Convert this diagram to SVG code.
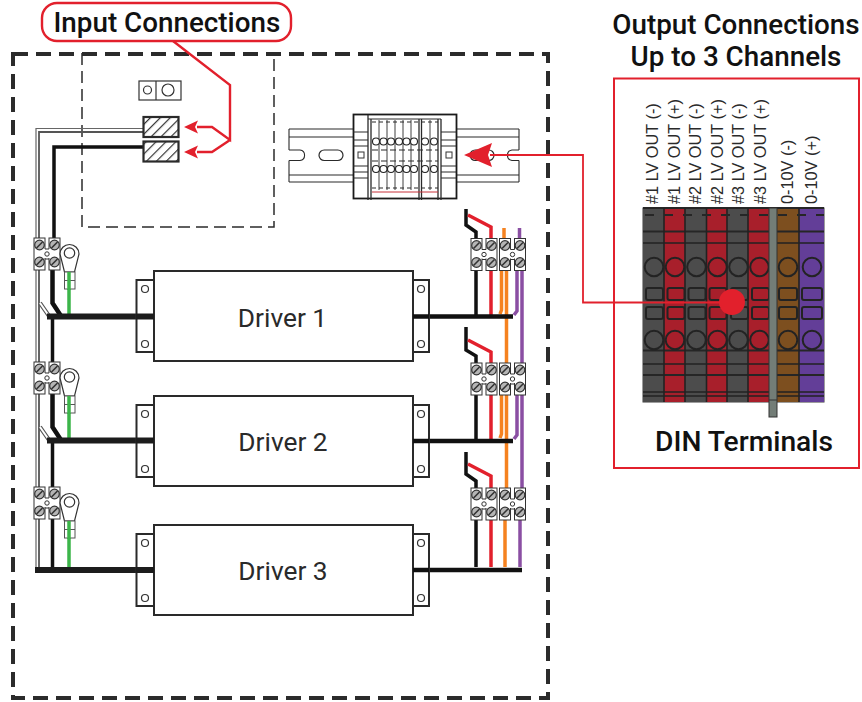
<svg xmlns="http://www.w3.org/2000/svg" xmlns:xlink="http://www.w3.org/1999/xlink" width="862" height="702" viewBox="0 0 862 702">
<style>
.h{font-family:Roboto,"Liberation Sans",sans-serif;font-weight:500;font-size:27.8px;fill:#111}
.d{font-family:Roboto,"Liberation Sans",sans-serif;font-size:26.300px;fill:#2a2a2a;text-anchor:middle}
.v{font-family:"Liberation Sans",Arial,sans-serif;font-size:16.300px;fill:#2a2a2a}
.b{stroke-width:6;stroke:#1c1c1c;fill:none}
.r{stroke-width:4.500;stroke:#111;fill:none}
.w3{stroke-width:3.500;fill:none}
.blk{stroke:#111}.red{stroke:#e2202c}.or{stroke:#f58220}.pu{stroke:#8a4fa3}.gr{stroke:#3cb54a}
.ln{stroke:#2a2a2a;stroke-width:1.100;fill:none}
.tl{stroke:#222;stroke-width:1.600;fill:none}
.tk{stroke:#262626;stroke-width:2.200;fill:none}
.cr{stroke:#e2202c;stroke-width:2.400;fill:none}
</style>
<defs>
<g id="screw"><circle r="4.800" fill="#b5b5b5" stroke="#333" stroke-width="1.200"/><path d="M-3 3L3-3" stroke="#333" stroke-width="1.600"/></g>
<g id="blk">
<rect x="0" y="0" width="11" height="32" fill="#fff" stroke="#333" stroke-width="1"/>
<rect x="15" y="0" width="11" height="32" fill="#fff" stroke="#333" stroke-width="1"/>
<rect x="10" y="11" width="6" height="9" fill="#fff"/>
<path d="M11 11H15M11 21H15" stroke="#333" stroke-width="1"/>
<circle cx="13" cy="16" r="2.200" fill="#fff" stroke="#333"/>
<use xlink:href="#screw" x="5.500" y="7"/><use xlink:href="#screw" x="20.500" y="7"/>
<use xlink:href="#screw" x="5.500" y="24"/><use xlink:href="#screw" x="20.500" y="24"/>
</g>
<g id="lug">
<path d="M-5 19L-9.500 1A9.500 9.500 0 1 1 9.500 1L5 19Z" fill="#fff" stroke="#333" stroke-width="1.200"/>
<circle r="5.200" cy="0" fill="#fff" stroke="#333" stroke-width="1.200"/>
<rect x="-5" y="19" width="10.500" height="17" fill="#fff" stroke="#555" stroke-width="1"/>
<path d="M-5 27.500H5.500" stroke="#555" stroke-width="1"/>
</g>
<g id="driver">
<rect x="136.500" y="9" width="17.500" height="72" fill="#fff" stroke="#2a2a2a" stroke-width="2"/>
<rect x="413" y="9" width="16" height="72" fill="#fff" stroke="#2a2a2a" stroke-width="2"/>
<rect x="154" y="0" width="259" height="90" fill="#fff" stroke="#2a2a2a" stroke-width="2"/>
<circle cx="145" cy="18" r="3.500" fill="#fff" stroke="#333" stroke-width="1.200"/>
<circle cx="145" cy="73" r="3.500" fill="#fff" stroke="#333" stroke-width="1.200"/>
<circle cx="421" cy="18" r="3.500" fill="#fff" stroke="#333" stroke-width="1.200"/>
<circle cx="421" cy="73" r="3.500" fill="#fff" stroke="#333" stroke-width="1.200"/>
</g>
<pattern id="hatch" width="7" height="7" patternUnits="userSpaceOnUse" patternTransform="rotate(45)"><rect width="7" height="7" fill="#fff"/><rect width="1.200" height="7" x="0" fill="#333"/></pattern>
</defs>

<g id="enclosure">
<rect x="13" y="54" width="535" height="644" fill="none" stroke="#2b2b2b" stroke-width="4" stroke-dasharray="15 8"/>
</g>
<g id="input-area">
<path d="M82 53V227H274V53" fill="none" stroke="#2b2b2b" stroke-width="1.500" stroke-dasharray="12 6"/>
</g>

<g id="connectors">
<path d="M143 128.500H36V567" fill="none" stroke="#666" stroke-width="1.200"/>
<path d="M143 132H39V567" fill="none" stroke="#555" stroke-width="1.800"/>
<path d="M40 303L49 316M40 427L49 440" fill="none" stroke="#555" stroke-width="4"/><path d="M40 303L49 316M40 427L49 440" fill="none" stroke="#fff" stroke-width="2"/>
<path class="w3 blk" d="M143 147H54V238"/>
<path d="M52.500 270V303L61 316M52.500 394V427L61 440" class="blk" fill="none" stroke-width="4.500"/>
<path class="w3 blk" d="M52.500 316V362M52.500 440V487M52.500 519V567"/>
<path class="w3 gr" d="M69 272V317M69 396V441M69 521V567"/>
<path class="b" d="M47 316.500H154M47 440.500H154M35 570H154"/>

<path class="w3 or" d="M504 228V239M506.500 269V363M506.500 394V488M505 519V567"/>
<path class="w3 or" d="M501.500 269V310L500 314M501.500 394V434L500 438"/>
<path class="w3 pu" d="M519.500 228V239M522 269V363M522 394V488M520 519V567M517 269V311L514 315M517 394V435L514 439"/>
<path class="w3 blk" d="M466 209V225L476 232V239M476 269V316M466 327V350L476 356V363M476 394V441M466 452V474L476 481V488M476 519V567"/>
<path class="w3 red" d="M468 215L491 227V239M491 269V316M468 340L491 352V363M491 394V441M468 464L491 476V488M491 519V567"/>
<path class="r" d="M413 316.500H513M413 441H513M413 570H522"/>
</g>

<g id="din-rail">
<path d="M289 129H353M289 137H353M289 175H353M289 182H353M289 129V150M289 160.500V182M456 129H519M456 137H519M456 175H519M456 182H519M519 129V150M519 160.500V182" class="ln"/>
<path d="M289 150H300A5.300 5.300 0 0 1 300 160.500H289M519 150H512A5.300 5.300 0 0 0 512 160.500H519" class="ln"/>
<rect x="319" y="150" width="24" height="10.500" rx="5.250" fill="#fff" stroke="#2a2a2a" stroke-width="1.200"/>
<rect x="470" y="150" width="24" height="10.500" rx="5.250" fill="#fff" stroke="#2a2a2a" stroke-width="1.200"/>
<rect x="353.500" y="114.500" width="103" height="84" fill="#fff" stroke="#1a1a1a" stroke-width="1.800"/>
<path d="M368 115V200M371 119V200M438 119V200M441 119V200M419 119V200M421.500 119V200" class="ln" style="stroke-width:1.300"/>
<path d="M368 119H441M353 132H368M353 140H368M441 132H456M441 140H456M353 172H368M353 178H368M441 172H456M441 178H456M353 146H368M441 146H456M353 166H368M441 166H456" class="ln"/>
<path d="M372 150H438M372 161H438" class="ln" stroke-dasharray="6 3"/>
<path d="M372 122H438M372 188H438" class="ln" stroke-dasharray="4 3"/>
<path d="M372 192H438" stroke="#c8323a" stroke-width="1"/>
<path d="M379 120V190M387 120V190M395 120V190M403 120V190M411 120V190M430 120V190" class="ln" style="stroke-width:0.900"/>
<rect x="358" y="152" width="6" height="6" fill="#fff" stroke="#333"/>
<rect x="446" y="152" width="6" height="6" fill="#fff" stroke="#333"/>
<g fill="#fff" stroke="#222" stroke-width="1.100">
<circle cx="376" cy="141.500" r="3.500"/><circle cx="383.500" cy="141.500" r="3.500"/><circle cx="391" cy="141.500" r="3.500"/><circle cx="399" cy="141.500" r="3.500"/><circle cx="406.500" cy="141.500" r="3.500"/><circle cx="414" cy="141.500" r="3.500"/><circle cx="425" cy="141.500" r="3.500"/><circle cx="434" cy="141.500" r="3.500"/>
<circle cx="376" cy="169" r="3.500"/><circle cx="383.500" cy="169" r="3.500"/><circle cx="391" cy="169" r="3.500"/><circle cx="399" cy="169" r="3.500"/><circle cx="406.500" cy="169" r="3.500"/><circle cx="414" cy="169" r="3.500"/><circle cx="425" cy="169" r="3.500"/><circle cx="434" cy="169" r="3.500"/>
</g>
</g>

<g id="jumper">
<rect x="139" y="81" width="42" height="19" fill="#fff" stroke="#333" stroke-width="1.200"/>
<path d="M156 81V100" stroke="#333" stroke-width="1.200"/>
<circle cx="147.500" cy="90" r="4" fill="#fff" stroke="#333" stroke-width="1.200"/>
<circle cx="168" cy="90" r="6" fill="#fff" stroke="#333" stroke-width="1.200"/>
</g>
<g id="input-terminals">
<rect x="143.500" y="117" width="35" height="20" fill="url(#hatch)" stroke="#2a2a2a" stroke-width="2.200"/>
<rect x="143.500" y="141.500" width="35" height="20" fill="url(#hatch)" stroke="#2a2a2a" stroke-width="2.200"/>
</g>

<g id="left-terminals">
<use xlink:href="#blk" x="34" y="238"/><use xlink:href="#blk" x="34" y="362"/><use xlink:href="#blk" x="34" y="487"/>
<use xlink:href="#lug" x="69.500" y="253"/><use xlink:href="#lug" x="69.500" y="377"/><use xlink:href="#lug" x="69.500" y="502"/>
<path class="w3 gr" d="M69 272V290M69 396V414M69 521V539"/>
</g>
<g id="right-terminals">
<use xlink:href="#blk" x="471" y="238.500"/><use xlink:href="#blk" x="499.500" y="238.500"/>
<use xlink:href="#blk" x="471" y="363"/><use xlink:href="#blk" x="499.500" y="363"/>
<use xlink:href="#blk" x="471" y="488"/><use xlink:href="#blk" x="499.500" y="488"/>
</g>

<g id="driver1"><use xlink:href="#driver" y="271"/><path class="b" d="M136 316.500H154"/><path class="r" d="M413 316.500H429"/><text class="d" x="282.500" y="327">Driver 1</text></g>
<g id="driver2"><use xlink:href="#driver" y="396"/><path class="b" d="M136 440.500H154"/><path class="r" d="M413 441H429"/><text class="d" x="283" y="451">Driver 2</text></g>
<g id="driver3"><use xlink:href="#driver" y="525"/><path class="b" d="M136 570H154"/><path class="r" d="M413 570H429"/><text class="d" x="283" y="580">Driver 3</text></g>

<g id="din-terminals">
<rect x="642.500" y="207.500" width="182" height="195" fill="#3d3d3d"/>
<rect x="643" y="208" width="21" height="194" fill="#4c4c4c"/>
<rect x="664" y="208" width="21" height="194" fill="#a81f2b"/>
<rect x="685" y="208" width="21.500" height="194" fill="#4c4c4c"/>
<rect x="706.500" y="208" width="20.500" height="194" fill="#a81f2b"/>
<rect x="727" y="208" width="21" height="194" fill="#4c4c4c"/>
<rect x="748" y="208" width="21" height="194" fill="#a81f2b"/>
<rect x="777" y="208" width="22" height="194" fill="#7d4f1f"/>
<rect x="799" y="208" width="25" height="194" fill="#633e98"/>
<path class="tk" d="M643 208H824M643 231.500H824M643 350.500H824M643 375H824"/>
<path class="tl" d="M643 243H824M643 364H824M643 392H824M643 396H824M664 208V402M685 208V402M706.500 208V402M727 208V402M748 208V402M799 208V402"/>
<path class="tk" d="M645 215H824" stroke-dasharray="9 10"/>
<g fill="none" stroke="#232323" stroke-width="2">
<circle cx="654" cy="267" r="9.300"/><circle cx="675" cy="267" r="9.300"/><circle cx="696.500" cy="267" r="9.300"/><circle cx="717.500" cy="267" r="9.300"/><circle cx="738.500" cy="267" r="9.300"/><circle cx="759.500" cy="267" r="9.300"/><circle cx="788" cy="267" r="9.300"/><circle cx="812" cy="267" r="9.300"/>
<circle cx="654" cy="340" r="9.300"/><circle cx="675" cy="340" r="9.300"/><circle cx="696.500" cy="340" r="9.300"/><circle cx="717.500" cy="340" r="9.300"/><circle cx="738.500" cy="340" r="9.300"/><circle cx="759.500" cy="340" r="9.300"/><circle cx="788" cy="340" r="9.300"/><circle cx="812" cy="340" r="9.300"/>
<rect x="646" y="288" width="17" height="12" rx="2"/><rect x="667.500" y="288" width="17" height="12" rx="2"/><rect x="688.500" y="288" width="17" height="12" rx="2"/><rect x="709.500" y="288" width="17" height="12" rx="2"/><rect x="731" y="288" width="17" height="12" rx="2"/><rect x="752" y="288" width="17" height="12" rx="2"/><rect x="779" y="288" width="18" height="12" rx="2"/><rect x="802" y="288" width="20" height="12" rx="2"/>
<rect x="646" y="307" width="17" height="12" rx="2"/><rect x="667.500" y="307" width="17" height="12" rx="2"/><rect x="688.500" y="307" width="17" height="12" rx="2"/><rect x="709.500" y="307" width="17" height="12" rx="2"/><rect x="731" y="307" width="17" height="12" rx="2"/><rect x="752" y="307" width="17" height="12" rx="2"/><rect x="779" y="307" width="18" height="12" rx="2"/><rect x="802" y="307" width="20" height="12" rx="2"/>
</g>
<rect x="769" y="208" width="8" height="209" fill="#737d77" stroke="#333" stroke-width="1"/>
<path d="M769 400H777" stroke="#333" stroke-width="1"/>
<text class="v" transform="translate(658,204) rotate(-90)">#1 LV OUT (-)</text>
<text class="v" transform="translate(680,204) rotate(-90)">#1 LV OUT (+)</text>
<text class="v" transform="translate(701,204) rotate(-90)">#2 LV OUT (-)</text>
<text class="v" transform="translate(723,204) rotate(-90)">#2 LV OUT (+)</text>
<text class="v" transform="translate(744,204) rotate(-90)">#3 LV OUT (-)</text>
<text class="v" transform="translate(766,204) rotate(-90)">#3 LV OUT (+)</text>
<text class="v" transform="translate(793,204) rotate(-90)">0-10V (-)</text>
<text class="v" transform="translate(817,204) rotate(-90)">0-10V (+)</text>
<text class="h" x="655" y="451" style="font-size:28.200px">DIN Terminals</text>
</g>
<rect id="din-frame" x="614" y="78.500" width="245" height="389.500" fill="none" stroke="#e2202c" stroke-width="2"/>

<g id="input-label">
<path class="cr" d="M173 41L230 85V140L212 127H197M230 140L212 152H197"/>
<path d="M184 127L198 120.500L195 127L198 133.500Z" fill="#e2202c"/>
<path d="M184 152L198 145.500L195 152L198 158.500Z" fill="#e2202c"/>
<rect x="42" y="3" width="249" height="38" rx="15" fill="#fff" stroke="#e2202c" stroke-width="2.400"/>
<text class="h" x="53.500" y="32">Input Connections</text>
</g>
<g id="output-label">
<text class="h" x="736" y="34" text-anchor="middle">Output Connections</text>
<text class="h" x="736" y="66" text-anchor="middle">Up to 3 Channels</text>
</g>
<g id="output-link">
<path d="M732 302.500H583V155H490" fill="none" stroke="#e2202c" stroke-width="1.800"/>
<circle cx="732" cy="302" r="13" fill="#e2202c"/>
<path d="M464 155L492 143L488 155L492 167Z" fill="#e2202c"/>
</g>
</svg>
